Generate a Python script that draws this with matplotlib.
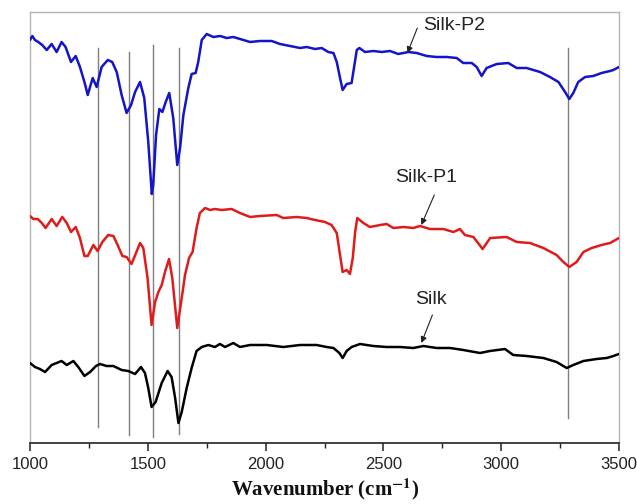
import matplotlib
matplotlib.use("Agg")
import matplotlib.pyplot as plt
from matplotlib.ticker import MultipleLocator

plt.rcParams['font.family'] = ['Liberation Sans', 'DejaVu Sans']
plt.rcParams['mathtext.fontset'] = 'stix'

# ---------------- data ----------------
p2_wn = [1000, 1010, 1021, 1035, 1052, 1071, 1092, 1113, 1134, 1151, 1174, 1194, 1212, 1231,
         1245, 1266, 1283, 1304, 1330, 1349, 1368, 1389, 1410, 1429, 1446, 1467, 1485, 1502,
         1517, 1523, 1535, 1549, 1562, 1576, 1591, 1608, 1625, 1637, 1651, 1672, 1686, 1703,
         1714, 1729, 1750, 1778, 1807, 1835, 1863, 1906, 1934, 1976, 2026, 2061, 2104, 2146,
         2174, 2210, 2238, 2266, 2288, 2302, 2316, 2327, 2344, 2365, 2375, 2387, 2398, 2422,
         2457, 2493, 2528, 2563, 2606, 2641, 2684, 2726, 2769, 2811, 2839, 2875, 2896, 2917,
         2938, 2981, 3030, 3066, 3108, 3165, 3207, 3243, 3271, 3289, 3306, 3327, 3356, 3391,
         3426, 3462, 3476, 3500]
p2_val = [403, 407, 403, 401, 398, 393, 399, 391, 401, 396, 381, 387, 376, 361,
          348, 365, 356, 376, 383, 381, 371, 348, 330, 338, 351, 361, 345, 301,
          249, 258, 308, 334, 331, 341, 350, 325, 278, 295, 328, 355, 369, 370,
          381, 403, 409, 406, 407, 405, 406, 403, 401, 402, 402, 399, 397, 395,
          396, 394, 395, 391, 390, 381, 365, 353, 359, 360, 375, 393, 395, 391,
          392, 391, 392, 389, 391, 390, 387, 386, 386, 385, 380, 380, 376, 367,
          375, 379, 380, 375, 375, 371, 366, 361, 351, 344, 350, 361, 366, 367,
          370, 372, 373, 376]

p1_wn = [1000, 1014, 1033, 1050, 1066, 1092, 1113, 1137, 1156, 1174, 1194, 1212, 1231, 1245,
         1269, 1287, 1307, 1332, 1354, 1372, 1392, 1410, 1431, 1450, 1467, 1481, 1499, 1516,
         1531, 1545, 1559, 1573, 1590, 1604, 1625, 1644, 1658, 1675, 1690, 1707, 1721, 1743,
         1764, 1785, 1813, 1856, 1891, 1934, 1976, 2047, 2075, 2132, 2174, 2210, 2252, 2280,
         2302, 2316, 2327, 2344, 2358, 2370, 2380, 2389, 2415, 2443, 2486, 2514, 2542, 2585,
         2627, 2655, 2698, 2754, 2797, 2825, 2846, 2882, 2921, 2953, 3023, 3066, 3122, 3179,
         3235, 3264, 3289, 3320, 3349, 3384, 3426, 3462, 3500]
p1_val = [227, 224, 224, 220, 215, 224, 217, 226, 220, 211, 216, 205, 187, 187,
          198, 192, 201, 208, 207, 198, 187, 186, 179, 190, 200, 195, 165, 118,
          141, 151, 158, 171, 184, 165, 115, 145, 168, 185, 191, 215, 230, 235,
          233, 234, 233, 234, 230, 226, 227, 228, 225, 226, 225, 223, 221, 218,
          210, 188, 171, 173, 169, 185, 211, 225, 220, 216, 218, 219, 215, 216,
          215, 217, 214, 214, 211, 214, 208, 206, 194, 205, 206, 201, 200, 195,
          188, 181, 176, 181, 191, 195, 198, 200, 205]

silk_wn = [1000, 1021, 1042, 1064, 1092, 1113, 1134, 1156, 1184, 1205, 1231, 1255, 1280, 1297,
           1325, 1354, 1389, 1417, 1446, 1471, 1488, 1502, 1516, 1533, 1559, 1584, 1601, 1616,
           1630, 1644, 1665, 1686, 1707, 1729, 1757, 1785, 1806, 1828, 1863, 1891, 1934, 2005,
           2075, 2146, 2217, 2259, 2288, 2313, 2327, 2344, 2365, 2401, 2457, 2514, 2570, 2627,
           2670, 2726, 2783, 2839, 2910, 2952, 3016, 3051, 3108, 3179, 3235, 3278, 3306, 3349,
           3405, 3448, 3476, 3500]
silk_val = [80, 76, 74, 71, 78, 80, 82, 78, 82, 76, 67, 71, 77, 79,
            77, 77, 73, 72, 69, 76, 70, 55, 36, 41, 60, 72, 66, 45,
            20, 31, 55, 75, 92, 96, 98, 96, 99, 96, 100, 96, 98, 98,
            96, 98, 98, 96, 95, 90, 85, 92, 96, 99, 97, 96, 96, 95,
            97, 95, 95, 93, 90, 92, 94, 88, 87, 85, 81, 75, 78, 82,
            84, 85, 87, 89]

guide_wn = [1290, 1421, 1524, 1631, 3284]
guide_bottom = [16, 8, 6, 9, 25]
guide_top = [395, 391, 398, 395, 395]

labels = ['Silk-P2', 'Silk-P1', 'Silk']
label_text_xy = [(2801, 418), (2682, 265), (2703, 143)]
label_tail_xy = [(2644, 415), (2716, 248), (2708, 128)]
label_tip_xy = [(2602, 390), (2661, 218), (2661, 100)]

# ---------------- figure ----------------
fig = plt.figure(figsize=(6.37, 5.04), dpi=100)
ax = fig.add_axes([30 / 637, 61 / 504, 589 / 637, 431 / 504])

for x, b, t in zip(guide_wn, guide_bottom, guide_top):
    ax.plot([x, x], [b, t], color='#7f7f7f', lw=1.0, zorder=1)

line_kw = dict(lw=1.8, zorder=3, solid_joinstyle='round', solid_capstyle='round')
ax.plot(p2_wn, p2_val, color='#1414c8', **line_kw)
ax.plot(p1_wn, p1_val, color='#e01b1b', **line_kw)
ax.plot(silk_wn, silk_val, color='black', **line_kw)

for lab, txy, tail, tip in zip(labels, label_text_xy, label_tail_xy, label_tip_xy):
    ax.text(txy[0], txy[1], lab, ha='center', va='center', fontsize=14, color='#222222')
    ax.annotate('', xy=tip, xytext=tail,
                arrowprops=dict(arrowstyle='-|>', color='#222222', lw=0.8,
                                mutation_scale=9, shrinkA=0, shrinkB=0))

ax.set_xlim(1000, 3500)
ax.set_ylim(0, 431)
ax.set_yticks([])
ax.xaxis.set_major_locator(MultipleLocator(500))
ax.xaxis.set_minor_locator(MultipleLocator(250))
ax.tick_params(axis='x', which='major', direction='out', length=6, width=1.1,
               labelsize=12, pad=4, colors='#222222')
ax.tick_params(axis='x', which='minor', direction='out', length=3.5, width=1.0, colors='#222222')

for s in ['top', 'left', 'right']:
    ax.spines[s].set_color('#b4b4b4')
    ax.spines[s].set_linewidth(1.0)
ax.spines['bottom'].set_color('#222222')
ax.spines['bottom'].set_linewidth(1.2)

fig.text(325 / 637, 1.5 / 504, r'Wavenumber (cm$^{\mathbf{-1}}$)', fontsize=15,
         fontweight='bold', family=['Liberation Serif', 'DejaVu Serif'],
         ha='center', va='bottom', color='#111111')

fig.savefig('out.png', dpi=100)
